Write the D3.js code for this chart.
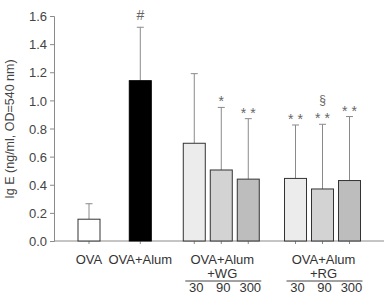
<!DOCTYPE html>
<html><head><meta charset="utf-8">
<script src="https://cdn.jsdelivr.net/npm/d3@7"></script>
<style>body{margin:0;background:#fff}svg{display:block}text{font-family:"Liberation Sans",Arial,sans-serif}</style>
</head><body><svg id="c" width="384" height="295"></svg>
<script>
const categories = ["OVA","OVA+Alum","WG30","WG90","WG300","RG30","RG90","RG300"];
const means = [0.155, 1.14, 0.695, 0.505, 0.44, 0.445, 0.37, 0.43];
const errTop = [0.265, 1.52, 1.19, 0.95, 0.87, 0.825, 0.83, 0.885];
const marks = ["", "#", "", "*", "* *", "* *", "* *", "* *"];
const extraMarks = ["", "", "", "", "", "", "§", ""];
const yTicks = [0, 0.2, 0.4, 0.6, 0.8, 1.0, 1.2, 1.4, 1.6];
const groupLabels = [["OVA"],["OVA+Alum"],["OVA+Alum","+WG"],["OVA+Alum","+RG"]];
const doseLabels = ["30","90","300"];
const fills = ["#ffffff","#000000","#ececec","#d3d3d3","#bdbdbd","#ececec","#d3d3d3","#bdbdbd"];
// layout: slot index per bar (gaps between groups)
const slots = [0, 1.9, 3.9, 4.9, 5.9, 7.65, 8.65, 9.65];
const groupMembers = [[0],[1],[2,3,4],[5,6,7]];

const svg = d3.select("#c");
const y = d3.scaleLinear().domain([0,1.6]).range([241,16]);
const x = d3.scaleLinear().domain([0,9.65]).range([89,349.5]);
const bw = 22;
const axisCol = "#8a8a8a";

// y axis
const ya = svg.append("g").attr("transform","translate(54,0)")
  .call(d3.axisLeft(y).tickValues(yTicks).tickFormat(d3.format(".1f")).tickSize(4).tickPadding(3));
ya.select(".domain").attr("stroke",axisCol);
ya.selectAll(".tick line").attr("stroke",axisCol);
ya.selectAll(".tick text").attr("fill","#444").style("font-size","13px").attr("dy","0.36em");

// x axis line
svg.append("line").attr("x1",54).attr("x2",384).attr("y1",y(0)).attr("y2",y(0)).attr("stroke",axisCol);
svg.selectAll(".xt").data(categories).enter().append("line")
  .attr("x1",(d,i)=>x(slots[i])).attr("x2",(d,i)=>x(slots[i]))
  .attr("y1",y(0)).attr("y2",y(0)+3).attr("stroke",axisCol);

// error bars
const eb = svg.selectAll(".eb").data(categories).enter().append("g");
eb.append("line").attr("x1",(d,i)=>x(slots[i])).attr("x2",(d,i)=>x(slots[i]))
  .attr("y1",(d,i)=>y(means[i])).attr("y2",(d,i)=>y(errTop[i])).attr("stroke","#8a8a8a");
eb.append("line").attr("x1",(d,i)=>x(slots[i])-3.5).attr("x2",(d,i)=>x(slots[i])+3.5)
  .attr("y1",(d,i)=>y(errTop[i])).attr("y2",(d,i)=>y(errTop[i])).attr("stroke","#8a8a8a");

// bars
svg.selectAll(".bar").data(categories).enter().append("rect")
  .attr("x",(d,i)=>x(slots[i])-bw/2).attr("width",bw)
  .attr("y",(d,i)=>y(means[i])).attr("height",(d,i)=>y(0)-y(means[i]))
  .attr("fill",(d,i)=>fills[i]).attr("stroke",(d,i)=>i===1?"#000":"#333").attr("stroke-width",1);

// significance marks
svg.selectAll(".mk").data(categories).enter().append("text")
  .attr("x",(d,i)=>x(slots[i])).attr("y",(d,i)=>y(errTop[i])-(marks[i]==="#"?7:1))
  .attr("text-anchor","middle").attr("fill","#666").style("font-size","14px")
  .text((d,i)=>marks[i]);
svg.selectAll(".mk2").data(categories).enter().append("text")
  .attr("x",(d,i)=>x(slots[i])).attr("y",(d,i)=>y(errTop[i])-20)
  .attr("text-anchor","middle").attr("fill","#666").style("font-size","12px")
  .text((d,i)=>extraMarks[i]);

// group labels
groupLabels.forEach((lines,g)=>{
  const mem = groupMembers[g];
  const cx = (x(slots[mem[0]])+x(slots[mem[mem.length-1]]))/2;
  lines.forEach((t,k)=>{
    svg.append("text").attr("x",cx+(lines.length>1?1:0)).attr("y",264+k*14).attr("text-anchor","middle")
      .attr("fill","#333").style("font-size","13px").text(t);
  });
  if(mem.length>1){
    svg.append("line").attr("x1",x(slots[mem[0]])-9).attr("x2",x(slots[mem[2]])+13)
      .attr("y1",281).attr("y2",281).attr("stroke","#444");
    mem.forEach((m,k)=>{
      svg.append("text").attr("x",x(slots[m])+2).attr("y",292).attr("text-anchor","middle")
        .attr("fill","#333").style("font-size","13px").text(doseLabels[k]);
    });
  }
});

// y label
svg.append("text").attr("transform","translate(14,129) rotate(-90)").attr("text-anchor","middle")
  .attr("fill","#444").style("font-size","12.5px").text("Ig E (ng/ml, OD=540 nm)");
</script></body></html>
